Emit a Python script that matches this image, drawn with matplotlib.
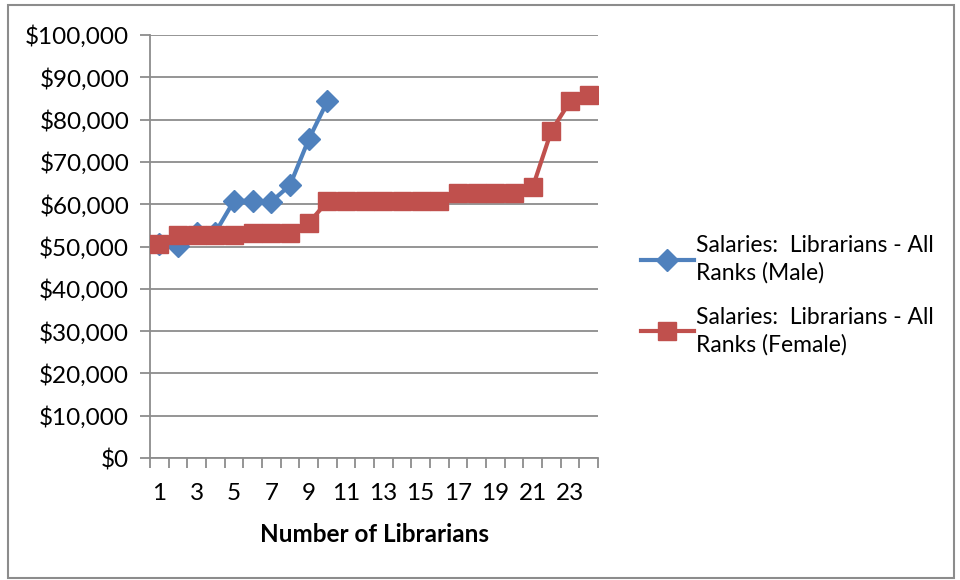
import matplotlib
matplotlib.use("Agg")
import matplotlib.pyplot as plt
from matplotlib.patches import Rectangle
from matplotlib.ticker import FuncFormatter, MultipleLocator

plt.rcParams['font.family'] = ['Lato', 'DejaVu Sans']

# salarios
male_n = [1, 2, 3, 4, 5, 6, 7, 8, 9, 10]
male_salary = [50500, 50100, 53300, 53300, 60800, 60800, 60600, 64500, 75300, 84300]
female_n = list(range(1, 25))
female_salary = [50700, 52700, 52700, 52700, 52700, 53300, 53300, 53300, 55500,
                 60700, 60700, 60700, 60700, 60700, 60700, 60700,
                 62700, 62700, 62700, 62700, 64000, 77300, 84300, 85800]
labels = ["Salaries:  Librarians - All\nRanks (Male)",
          "Salaries:  Librarians - All\nRanks (Female)"]

blue = '#4F81BD'
red = '#C0504D'
grid_gray = '#8C8C8C'

fig = plt.figure(figsize=(9.6, 5.8), dpi=100)
ax = fig.add_axes([150 / 960, 1 - 458 / 580, 448 / 960, 423 / 580])

ax.plot(male_n, male_salary, color=blue, lw=3, marker='D', ms=11,
        label=labels[0], zorder=3)
ax.plot(female_n, female_salary, color=red, lw=3, marker='s', ms=13,
        label=labels[1], zorder=4)

ax.set_xlim(0.5, 24.5)
ax.set_ylim(0, 100000)
ax.yaxis.set_major_locator(MultipleLocator(10000))
ax.yaxis.set_major_formatter(FuncFormatter(lambda v, p: '${:,.0f}'.format(v)))
ax.set_xticks(range(1, 24, 2))
ax.set_xticks([i + 0.5 for i in range(0, 25)], minor=True)
ax.tick_params(axis='x', which='major', length=0, pad=18, labelsize=17.5)
ax.tick_params(axis='x', which='minor', length=7, width=1.3, color=grid_gray,
               direction='out')
ax.tick_params(axis='y', length=7, width=1.3, color=grid_gray, labelsize=17.5, pad=8)

ax.grid(axis='y', color=grid_gray, lw=1.3)
ax.set_axisbelow(True)
for s in ['top', 'right']:
    ax.spines[s].set_visible(False)
for s in ['left', 'bottom']:
    ax.spines[s].set_color(grid_gray)
    ax.spines[s].set_linewidth(1.3)

ax.set_xlabel('Number of Librarians', fontsize=17.5, fontweight='bold', labelpad=14)

leg = ax.legend(loc='center left', bbox_to_anchor=(1.05, 0.385), frameon=False,
                fontsize=16.5, handlelength=2.3, handletextpad=0.1, labelspacing=1.0)
for t in leg.get_texts():
    t.set_linespacing(1.35)

fig.patches.append(Rectangle((8 / 960, 2 / 580), 946 / 960, 573 / 580,
                             transform=fig.transFigure, fill=False,
                             edgecolor='#8C8C8C', lw=1.5))

fig.savefig('out.png', dpi=100)
